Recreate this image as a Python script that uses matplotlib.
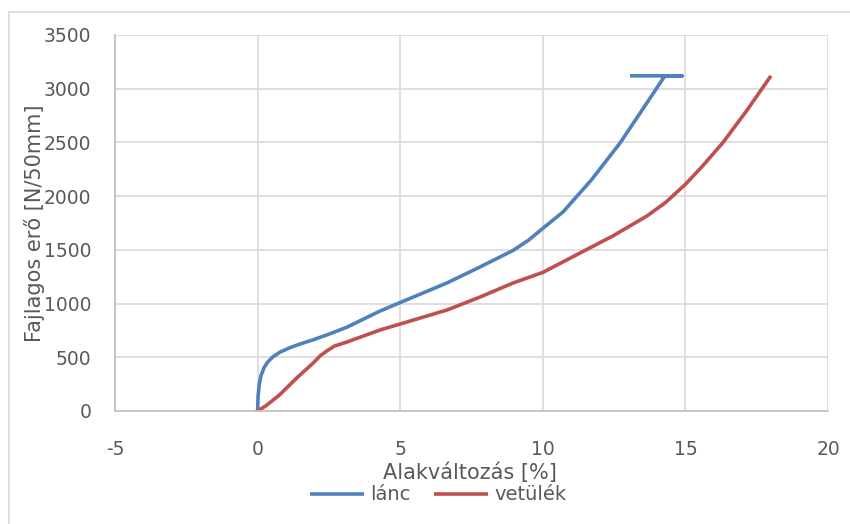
import matplotlib
matplotlib.use('Agg')
import matplotlib.pyplot as plt
import matplotlib.patches as patches

# lánc (warp)
lanc_x = [0, 0.02, 0.06, 0.12, 0.22, 0.35, 0.54, 0.8, 1.14, 1.5, 1.94, 2.5,
          3.13, 4.29, 5.0, 6.64, 7.80, 8.96, 9.5, 10.0, 10.71, 11.3, 11.7,
          12.71, 13.65, 14.28, 14.88, 13.06]
lanc_y = [0, 150, 250, 330, 400, 455, 505, 550, 590, 625, 662, 715,
          780, 930, 1010, 1192, 1341, 1495, 1590, 1700, 1853, 2030, 2150,
          2495, 2868, 3120, 3120, 3120]

# vetülék (weft)
vet_x = [0, 0.3, 0.77, 1.37, 1.95, 2.2, 2.43, 2.7, 3.13, 4.29, 5.0, 6.64,
         7.80, 8.96, 10.0, 11.3, 12.46, 13.65, 14.3, 15.0, 15.6, 16.32,
         17.16, 18.0]
vet_y = [0, 50, 150, 307, 447, 515, 560, 605, 642, 754, 810, 940,
         1061, 1192, 1290, 1470, 1630, 1815, 1940, 2110, 2280, 2500,
         2800, 3120]

x_ticks = [-5, 0, 5, 10, 15, 20]
y_ticks = [0, 500, 1000, 1500, 2000, 2500, 3000, 3500]

txt = '#595959'
grid = '#D9D9D9'
plt.rcParams['font.family'] = ['DejaVu Sans']
plt.rcParams['axes.unicode_minus'] = False

fig = plt.figure(figsize=(8.5, 5.24), dpi=100)
ax = fig.add_axes([115/850, 1-411/524, (828-115)/850, (411-35)/524])

ax.plot(lanc_x, lanc_y, color='#4F81BD', lw=2.6, label='lánc', solid_capstyle='butt')
ax.plot(vet_x, vet_y, color='#C0504D', lw=2.6, label='vetülék', solid_capstyle='butt')

ax.set_xlim(-5, 20)
ax.set_ylim(0, 3500)
ax.set_xticks(x_ticks)
ax.set_yticks(y_ticks)
ax.grid(True, color=grid, lw=1.2)
ax.set_axisbelow(True)
for s in ['top', 'right']:
    ax.spines[s].set_visible(False)
for s in ['left', 'bottom']:
    ax.spines[s].set_color('#BFBFBF')
    ax.spines[s].set_linewidth(1.2)
ax.tick_params(length=0, labelsize=13.5, labelcolor=txt)
ax.tick_params(axis='x', pad=21)
ax.tick_params(axis='y', pad=17)

ax.set_xlabel('Alakváltozás [%]', fontsize=15, color=txt)
ax.xaxis.set_label_coords((470-115)/(828-115), -(473-411)/(411-35), transform=ax.transAxes)
ax.xaxis.label.set_va('center')
ax.set_ylabel('Fajlagos erő [N/50mm]', fontsize=15, color=txt)
ax.yaxis.set_label_coords(-(115-35)/(828-115), 0.5)
ax.yaxis.label.set_va('center')

leg = fig.legend(loc='center', bbox_to_anchor=(438/850, 1-495/524), ncol=2,
                 frameon=False, fontsize=14, handlelength=2.8, handletextpad=0.3,
                 columnspacing=1.2, labelcolor=txt)

fig.patches.append(patches.Rectangle((9/850, -0.1), 1, 1-12/524+0.1,
                                     transform=fig.transFigure, fill=False,
                                     edgecolor=grid, lw=1.2))

fig.savefig('out.png', dpi=100)
